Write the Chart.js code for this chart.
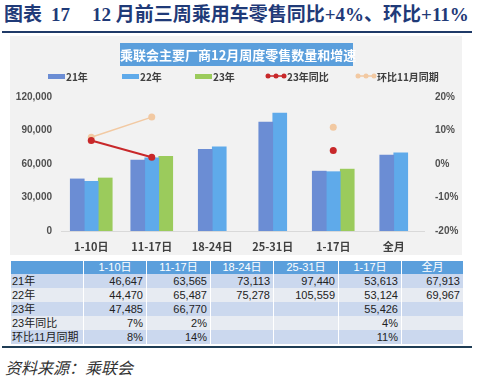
<!DOCTYPE html>
<html lang="zh">
<head>
<meta charset="UTF-8">
<title>12月前三周乘用车零售</title>
<script src="https://cdn.jsdelivr.net/npm/chart.js"></script>
<style>
    body { margin: 0; width: 478px; height: 384px; background: #fff; position: relative; overflow: hidden;
           font-family: "Noto Sans CJK SC", sans-serif; }
    #title { position: absolute; left: 4px; top: 2px; font-family: "Liberation Serif", "Noto Sans CJK SC", serif;
             font-weight: 700; font-size: 19px; line-height: 26px; color: #1f3a78; white-space: nowrap; }
    #title .gap1 { margin-left: 9px; }
    #title .gap2 { margin-left: 22px; }
    #topline { position: absolute; left: 2px; top: 31px; width: 470px; height: 2px; background: #1f3a68; }
    #panel { position: absolute; left: 10px; top: 36px; width: 452px; height: 219px; background: #f2f2f2; }
    #chartBox { position: absolute; left: 10px; top: 36px; width: 452px; height: 219px; }
    #innerTitle { position: absolute; left: 120px; top: 43px; width: 233px; height: 23px; background: #5b9fdc;
                  color: #fff; font-weight: 700; font-size: 13px; line-height: 23px; text-align: center; white-space: nowrap; }
    .lg { position: absolute; top: 70px; height: 12px; display: flex; align-items: center; font-size: 10px;
          font-weight: 700; color: #404040; white-space: nowrap; }
    .lg .box { width: 17px; height: 5px; margin-right: 1px; }
    #tbl { position: absolute; left: 10px; top: 261px; border-collapse: collapse; table-layout: fixed;
           font-family: "Liberation Sans", Arial, "Noto Sans CJK SC", sans-serif; font-size: 11px; color: #222; }
    #tbl td { padding: 0; border-left: 1px solid #fff; border-right: 1px solid #fff; text-align: right; }
    #tbl td div { height: 14px; line-height: 14px; overflow: hidden; white-space: nowrap; padding: 0 3px; }
    #tbl tr.head td div { height: 13px; line-height: 13px; }
    #tbl tr.head td { background: #5b9fdc; color: #fff; text-align: center; }
    #tbl tr.odd td { background: #cbd8ee; }
    #tbl tr.even td { background: #e7ebf2; }
    #tbl td.lab { text-align: left; }
    #tbl td.lab div { padding-left: 1px; }
    #botline { position: absolute; left: 2px; top: 346px; width: 470px; height: 2px; background: #1f3d55; }
    #source { position: absolute; left: 5px; top: 355px; font-size: 16px; font-style: italic; color: #333; }
</style>
</head>
<body>
<div id="title">图表<span class="gap1">17</span><span class="gap2">12 月前三周乘用车零售同比+4%、环比+11%</span></div>
<div id="topline"></div>
<div id="panel"></div>
<div id="chartBox"><canvas id="c" width="452" height="219"></canvas></div>
<div id="innerTitle">乘联会主要厂商12月周度零售数量和增速</div>
<div id="legend"></div>
<table id="tbl"></table>
<div id="botline"></div>
<div id="source">资料来源：乘联会</div>

<script>
    // 周度区间
    const categories = ['1-10日', '11-17日', '18-24日', '25-31日', '1-17日', '全月'];
    // 零售量（辆）
    const sales21 = [46647, 63565, 73113, 97440, 53613, 67913];
    const sales22 = [44470, 65487, 75278, 105559, 53124, 69967];
    const sales23 = [47485, 66770, null, null, 55426, null];
    // 增速（%）
    const yoy23 = [7, 2, null, null, 4, null];
    const momNov = [8, 14, null, null, 11, null];
    // 坐标轴刻度
    const leftTicks = [0, 30000, 60000, 90000, 120000];
    const rightTicks = [-20, -10, 0, 10, 20];
    const seriesNames = ['21年', '22年', '23年', '23年同比', '环比11月同期'];

    const colors = ['#6b8dd4', '#5faaea', '#9bcb5c', '#c8282a', '#f2c9a2'];
    const fmt = v => v.toLocaleString('en-US');

    // 图例
    const legendLeft = [48, 122, 195, 265, 355];
    const legend = document.getElementById('legend');
    seriesNames.forEach((name, i) => {
        const d = document.createElement('div');
        d.className = 'lg';
        d.style.left = legendLeft[i] + 'px';
        if (i < 3) {
            d.innerHTML = `<span class="box" style="background:${colors[i]}"></span>${name}`;
        } else {
            d.innerHTML = `<svg width="22" height="8"><line x1="2" y1="4" x2="20" y2="4" stroke="${colors[i]}" stroke-width="1.5"/>` +
                `<circle cx="3" cy="4" r="2.5" fill="${colors[i]}"/><circle cx="11" cy="4" r="2.5" fill="${colors[i]}"/>` +
                `<circle cx="19" cy="4" r="2.5" fill="${colors[i]}"/></svg>${name}`;
        }
        legend.appendChild(d);
    });

    // 表格
    const colWidths = [73, 63, 64, 63, 65, 63, 62];
    const tbl = document.getElementById('tbl');
    let html = '<colgroup>' + colWidths.map(w => `<col style="width:${w}px">`).join('') + '</colgroup>';
    html += '<tr class="head"><td><div></div></td>' + categories.map(c => `<td><div>${c}</div></td>`).join('') + '</tr>';
    const rows = [
        [seriesNames[0], sales21, v => fmt(v)],
        [seriesNames[1], sales22, v => fmt(v)],
        [seriesNames[2], sales23, v => fmt(v)],
        [seriesNames[3], yoy23, v => v + '%'],
        [seriesNames[4], momNov, v => v + '%']
    ];
    rows.forEach((r, i) => {
        html += `<tr class="${i % 2 === 0 ? 'odd' : 'even'}"><td class="lab"><div>${r[0]}</div></td>` +
            r[1].map(v => `<td><div>${v === null ? '' : r[2](v)}</div></td>`).join('') + '</tr>';
    });
    tbl.innerHTML = html;

    const numFont = { family: '"Liberation Sans", Arial, sans-serif', size: 10, weight: 'bold' };
    const catFont = { family: '"Noto Sans CJK SC", sans-serif', size: 11, weight: 'bold' };

    new Chart(document.getElementById('c').getContext('2d'), {
        type: 'bar',
        data: {
            labels: categories,
            datasets: [
                { type: 'line', label: seriesNames[3], data: yoy23, yAxisID: 'y1', order: 0,
                  borderColor: colors[3], backgroundColor: colors[3], borderWidth: 2,
                  pointRadius: 3.5, pointBorderWidth: 0, spanGaps: false },
                { type: 'line', label: seriesNames[4], data: momNov, yAxisID: 'y1', order: 0,
                  borderColor: colors[4], backgroundColor: colors[4], borderWidth: 1.5,
                  pointRadius: 3.5, pointBorderWidth: 0, spanGaps: false },
                { label: seriesNames[0], data: sales21, backgroundColor: colors[0], order: 1 },
                { label: seriesNames[1], data: sales22, backgroundColor: colors[1], order: 1 },
                { label: seriesNames[2], data: sales23, backgroundColor: colors[2], order: 1 }
            ]
        },
        options: {
            responsive: false,
            animation: false,
            skipNull: true,
            barThickness: 14,
            layout: { padding: { top: 61, left: 0, right: 0, bottom: 0 } },
            plugins: { legend: { display: false }, tooltip: { enabled: false } },
            scales: {
                x: {
                    grid: { display: false, drawTicks: false },
                    border: { display: true, color: '#d9d9d9' },
                    ticks: { font: catFont, color: '#404040', padding: 9 },
                    afterFit: s => { s.height = 24; }
                },
                y: {
                    position: 'left', min: 0, max: 120000,
                    grid: { display: false, drawTicks: false },
                    border: { display: false },
                    afterBuildTicks: s => { s.ticks = leftTicks.map(v => ({ value: v })); },
                    ticks: { font: numFont, color: '#505050', padding: 9, callback: v => fmt(v) },
                    afterFit: s => { s.width = 51; }
                },
                y1: {
                    position: 'right', min: -20, max: 20,
                    grid: { display: false, drawTicks: false },
                    border: { display: false },
                    afterBuildTicks: s => { s.ticks = rightTicks.map(v => ({ value: v })); },
                    ticks: { font: numFont, color: '#505050', padding: 11, callback: v => v + '%' },
                    afterFit: s => { s.width = 38; }
                }
            }
        }
    });
</script>
</body>
</html>
